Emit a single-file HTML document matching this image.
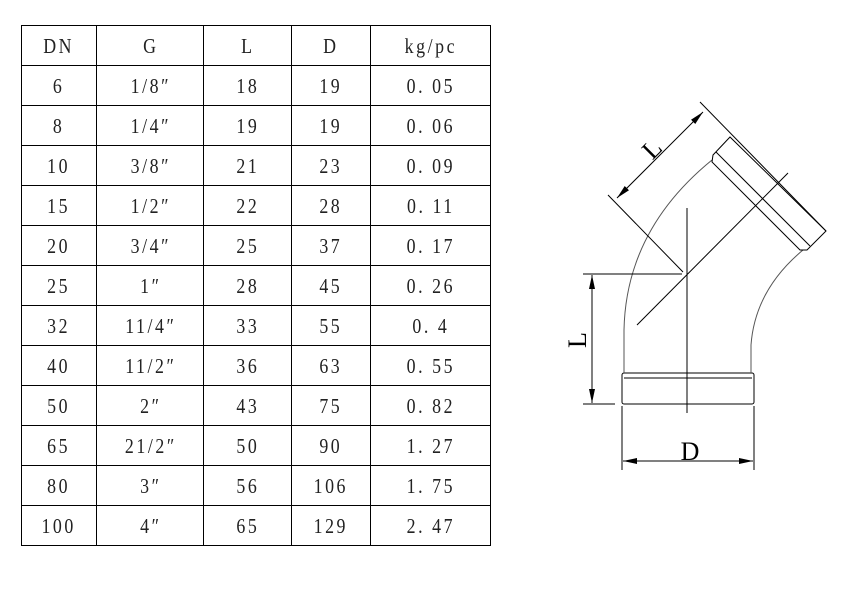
<!DOCTYPE html>
<html><head><meta charset="utf-8"><style>body{margin:0;background:#fff}svg{display:block}</style></head><body>
<svg width="842" height="595" viewBox="0 0 842 595" xmlns="http://www.w3.org/2000/svg">
<defs><marker id="a" markerWidth="14" markerHeight="6" refX="14" refY="3" orient="auto-start-reverse" markerUnits="userSpaceOnUse"><path d="M0,0L14,3L0,6z" fill="#000"/></marker></defs>
<g stroke="#000" stroke-width="1" fill="none">
<rect x="21.5" y="25.5" width="469" height="520"/>
<path d="M96.5 25v520M203.5 25v520M291.5 25v520M370.5 25v520"/>
<path d="M21 65.5h469M21 105.5h469M21 145.5h469M21 185.5h469M21 225.5h469M21 265.5h469M21 305.5h469M21 345.5h469M21 385.5h469M21 425.5h469M21 465.5h469M21 505.5h469"/>
</g>
<g font-family="Liberation Serif, serif" font-size="21" text-anchor="middle" fill="#222" transform="scale(0.85,1)" letter-spacing="3">
<text x="69" y="53">DN</text><text x="177.5" y="53">G</text><text x="291.6" y="53">L</text><text x="389.2" y="53">D</text><text x="506.9" y="53">kg/pc</text>
<text x="69" y="93">6</text><text x="177.5" y="93">1/8″</text><text x="291.6" y="93">18</text><text x="389.2" y="93">19</text><text x="506.9" y="93">0. 05</text>
<text x="69" y="133">8</text><text x="177.5" y="133">1/4″</text><text x="291.6" y="133">19</text><text x="389.2" y="133">19</text><text x="506.9" y="133">0. 06</text>
<text x="69" y="173">10</text><text x="177.5" y="173">3/8″</text><text x="291.6" y="173">21</text><text x="389.2" y="173">23</text><text x="506.9" y="173">0. 09</text>
<text x="69" y="213">15</text><text x="177.5" y="213">1/2″</text><text x="291.6" y="213">22</text><text x="389.2" y="213">28</text><text x="506.9" y="213">0. 11</text>
<text x="69" y="253">20</text><text x="177.5" y="253">3/4″</text><text x="291.6" y="253">25</text><text x="389.2" y="253">37</text><text x="506.9" y="253">0. 17</text>
<text x="69" y="293">25</text><text x="177.5" y="293">1″</text><text x="291.6" y="293">28</text><text x="389.2" y="293">45</text><text x="506.9" y="293">0. 26</text>
<text x="69" y="333">32</text><text x="177.5" y="333">11/4″</text><text x="291.6" y="333">33</text><text x="389.2" y="333">55</text><text x="506.9" y="333">0. 4</text>
<text x="69" y="373">40</text><text x="177.5" y="373">11/2″</text><text x="291.6" y="373">36</text><text x="389.2" y="373">63</text><text x="506.9" y="373">0. 55</text>
<text x="69" y="413">50</text><text x="177.5" y="413">2″</text><text x="291.6" y="413">43</text><text x="389.2" y="413">75</text><text x="506.9" y="413">0. 82</text>
<text x="69" y="453">65</text><text x="177.5" y="453">21/2″</text><text x="291.6" y="453">50</text><text x="389.2" y="453">90</text><text x="506.9" y="453">1. 27</text>
<text x="69" y="493">80</text><text x="177.5" y="493">3″</text><text x="291.6" y="493">56</text><text x="389.2" y="493">106</text><text x="506.9" y="493">1. 75</text>
<text x="69" y="533">100</text><text x="177.5" y="533">4″</text><text x="291.6" y="533">65</text><text x="389.2" y="533">129</text><text x="506.9" y="533">2. 47</text>
</g>
<g stroke="#000" stroke-width="1" fill="none">
<rect x="622" y="373" width="132" height="31" rx="2"/>
<path d="M624 378H752"/>
<path d="M624 373V330Q626 230 712 160" stroke="#555"/>
<path d="M751 373V345Q755 290 803 250" stroke="#555"/>
<path d="M713 155L730 137L826 231L807 250L800 250L712 162Z"/>
<path d="M716 152L810 246"/>
<path d="M700 102L826 231"/>
<path d="M608 195L683 272"/>
<path d="M617 198L703 112" marker-start="url(#a)" marker-end="url(#a)"/>
<path d="M687 208V413"/>
<path d="M637 325L788 173"/>
<path d="M583 274H682M583 404H615"/>
<path d="M592 275V403" marker-start="url(#a)" marker-end="url(#a)"/>
<path d="M622 406V470M754 406V470"/>
<path d="M623 461H753" marker-start="url(#a)" marker-end="url(#a)"/>
</g>
<g font-family="Liberation Serif, serif" font-size="26" fill="#000" text-anchor="middle">
<text x="690" y="460">D</text>
<text transform="translate(586,340) rotate(-90)">L</text>
<text transform="translate(658,155) rotate(-45)">L</text>
</g>
</svg>
</body></html>
